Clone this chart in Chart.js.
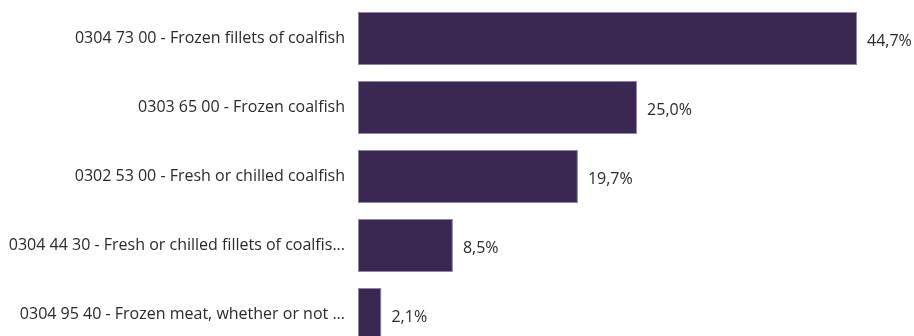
<!DOCTYPE html>
<html>
<head>
<meta charset="utf-8">
<script src="https://cdn.jsdelivr.net/npm/chart.js@4/dist/chart.umd.min.js"></script>
<style>
  html, body { margin: 0; padding: 0; background: #ffffff; overflow: hidden; }
  #wrap { width: 914px; height: 336px; overflow: hidden; position: relative; }
  #c { position: absolute; left: 0; top: 0; }
</style>
</head>
<body>
<div id="wrap"><canvas id="c" width="914" height="352" style="width:914px;height:352px"></canvas></div>
<script>
const categories = [
  "0304 73 00 - Frozen fillets of coalfish",
  "0303 65 00 - Frozen coalfish",
  "0302 53 00 - Fresh or chilled coalfish",
  "0304 44 30 - Fresh or chilled fillets of coalfis...",
  "0304 95 40 - Frozen meat, whether or not ..."
];
const shares = [44.7, 25.0, 19.7, 8.5, 2.1];
const valueLabels = ["44,7%", "25,0%", "19,7%", "8,5%", "2,1%"];

const FONT = "'Open Sans', 'Noto Sans', sans-serif";

const valuePlugin = {
  id: 'valueLabels',
  afterDatasetsDraw(chart) {
    const ctx = chart.ctx;
    const meta = chart.getDatasetMeta(0);
    ctx.save();
    ctx.font = "16px " + FONT;
    ctx.fillStyle = '#2a2a2a';
    ctx.textAlign = 'left';
    ctx.textBaseline = 'middle';
    meta.data.forEach((bar, i) => {
      ctx.fillText(valueLabels[i], bar.x + 10, bar.y + 3);
    });
    ctx.restore();
  }
};

new Chart(document.getElementById('c'), {
  type: 'bar',
  data: {
    labels: categories,
    datasets: [{
      data: shares,
      backgroundColor: '#3a2852',
      borderColor: '#8f86a3',
      borderWidth: 1,
      borderSkipped: false,
      categoryPercentage: 1.0,
      barPercentage: 0.77
    }]
  },
  options: {
    indexAxis: 'y',
    responsive: false,
    maintainAspectRatio: false,
    animation: false,
    events: [],
    layout: { padding: { top: 4, right: 9, bottom: 3, left: 0 } },
    plugins: { legend: { display: false }, tooltip: { enabled: false } },
    scales: {
      x: {
        display: false,
        min: 0,
        max: 49
      },
      y: {
        position: 'left',
        grid: { display: false, drawTicks: false },
        border: { display: false },
        ticks: {
          color: '#2a2a2a',
          font: { size: 16, family: FONT },
          padding: 13,
          autoSkip: false
        },
        afterFit(scale) {
          scale.width = 358;
          scale.paddingTop = 0;
          scale.paddingBottom = 0;
        }
      }
    }
  },
  plugins: [valuePlugin]
});
</script>
</body>
</html>
